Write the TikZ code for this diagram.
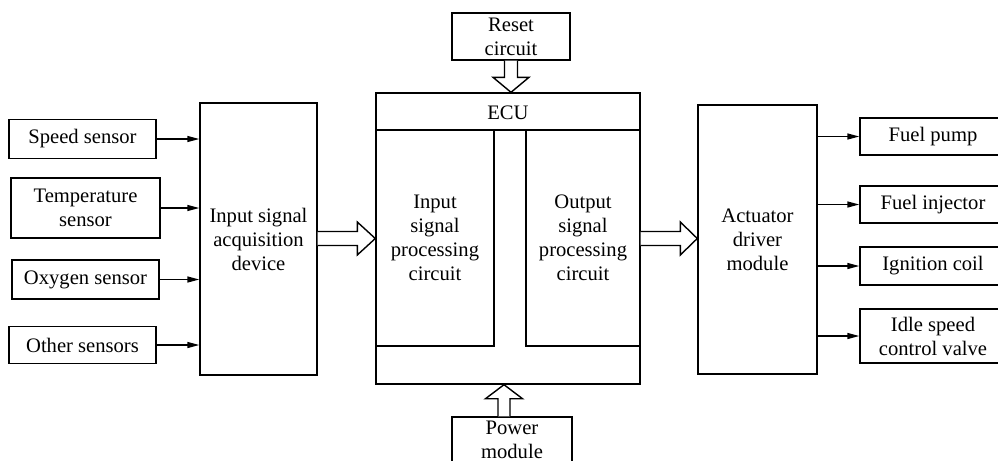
\documentclass[tikz,border=0pt]{standalone}
\usepackage{fontspec}
\setmainfont{Liberation Serif}
\usetikzlibrary{arrows.meta,calc}
\begin{document}
\begin{tikzpicture}[x=0.5pt,y=-0.5pt,
  every node/.style={font=\fontsize{10.3}{12}\selectfont, align=center, inner sep=0pt},
  blk/.style={draw, line width=0.7pt, rectangle},
  conn/.style={line width=0.7pt, -{Triangle[length=6pt,width=3pt]}},
  hollow/.style={draw, line width=0.7pt, fill=white, line join=miter}]
\clip (0,0) rectangle (998,461);
\useasboundingbox (0,0) rectangle (998,461);
% sensors
\node[blk, minimum width=73.5pt, minimum height=19.5pt] (speed) at (82.5,139) {Speed sensor};
\node[blk, minimum width=74.5pt, minimum height=30pt] (temp) at (85.5,208) {Temperature\\sensor};
\node[blk, minimum width=73.5pt, minimum height=19.5pt] (oxy) at (85.5,279.5) {Oxygen sensor};
\node[blk, minimum width=73.5pt, minimum height=18.5pt] (other) at (82.5,345) {Other sensors};
% acquisition
\node[blk, minimum width=58.5pt, minimum height=136pt] (acq) at (258.5,239) {Input signal\\acquisition\\device};
% ECU
\node[blk, minimum width=132pt, minimum height=145.5pt] (ecu) at (508,238.5) {};
\coordinate (tl) at (376,130);
\coordinate (tr) at (640,130);
\draw[line width=0.7pt] (tl) -- (tr);
\node (ecul) at (508,113) {ECU};
\node[blk, minimum width=59pt, minimum height=108pt] (inp) at (435,238) {Input\\signal\\processing\\circuit};
\node[blk, minimum width=57pt, minimum height=108pt] (outp) at (583,238) {Output\\signal\\processing\\circuit};
% reset and power
\node[blk, minimum width=59pt, minimum height=23.5pt] (reset) at (511,36.5) {Reset\\circuit};
\node[blk, minimum width=60pt, minimum height=28pt] (power) at (512,445) {};
\node (powerl) at (512,440) {Power\\module};
% actuator
\node[blk, minimum width=59.5pt, minimum height=134.5pt] (act) at (757.5,239.5) {Actuator\\driver\\module};
% outputs
\node[blk, minimum width=73pt, minimum height=18.5pt] (pump) at (933,136.5) {Fuel pump};
\node[blk, minimum width=73pt, minimum height=18.5pt] (inj) at (933,204.5) {Fuel injector};
\node[blk, minimum width=73pt, minimum height=19pt] (ign) at (933,266) {Ignition coil};
\node[blk, minimum width=73pt, minimum height=27pt] (idle) at (933,336) {Idle speed\\control valve};
% sensor arrows
\foreach \n in {speed,temp,oxy,other}
  \draw[conn] (\n.east) -- (\n.east -| acq.west);
\foreach \n in {pump,inj,ign,idle}
  \draw[conn] (\n.west -| act.east) -- (\n.west);
% hollow arrows
\coordinate (a1s) at (acq.east |- ecu.west);
\draw[hollow] ($(a1s)+(0,-7)$) -- ($(ecu.west)+(-18,-7)$) -- ($(ecu.west)+(-18,-16.5)$) -- (ecu.west)
  -- ($(ecu.west)+(-18,16.5)$) -- ($(ecu.west)+(-18,7)$) -- ($(a1s)+(0,7)$);
\coordinate (a2e) at (act.west |- ecu.east);
\draw[hollow] ($(ecu.east)+(0,-7)$) -- ($(a2e)+(-17,-7)$) -- ($(a2e)+(-17,-16.5)$) -- (a2e)
  -- ($(a2e)+(-17,16.5)$) -- ($(a2e)+(-17,7)$) -- ($(ecu.east)+(0,7)$);
\coordinate (a3e) at (reset.south |- ecu.north);
\draw[hollow] ($(reset.south)+(-6.5,0)$) -- ($(a3e)+(-6.5,-15)$) -- ($(a3e)+(-18,-15)$) -- (a3e)
  -- ($(a3e)+(18,-15)$) -- ($(a3e)+(6.5,-15)$) -- ($(reset.south)+(6.5,0)$);
\coordinate (a4s) at ($(power.north)+(-8,0)$);
\coordinate (a4e) at (a4s |- ecu.south);
\draw[hollow] ($(a4s)+(-6,0)$) -- ($(a4e)+(-6,14)$) -- ($(a4e)+(-18.5,14)$) -- (a4e)
  -- ($(a4e)+(18.5,14)$) -- ($(a4e)+(6,14)$) -- ($(a4s)+(6,0)$);
\end{tikzpicture}
\end{document}
